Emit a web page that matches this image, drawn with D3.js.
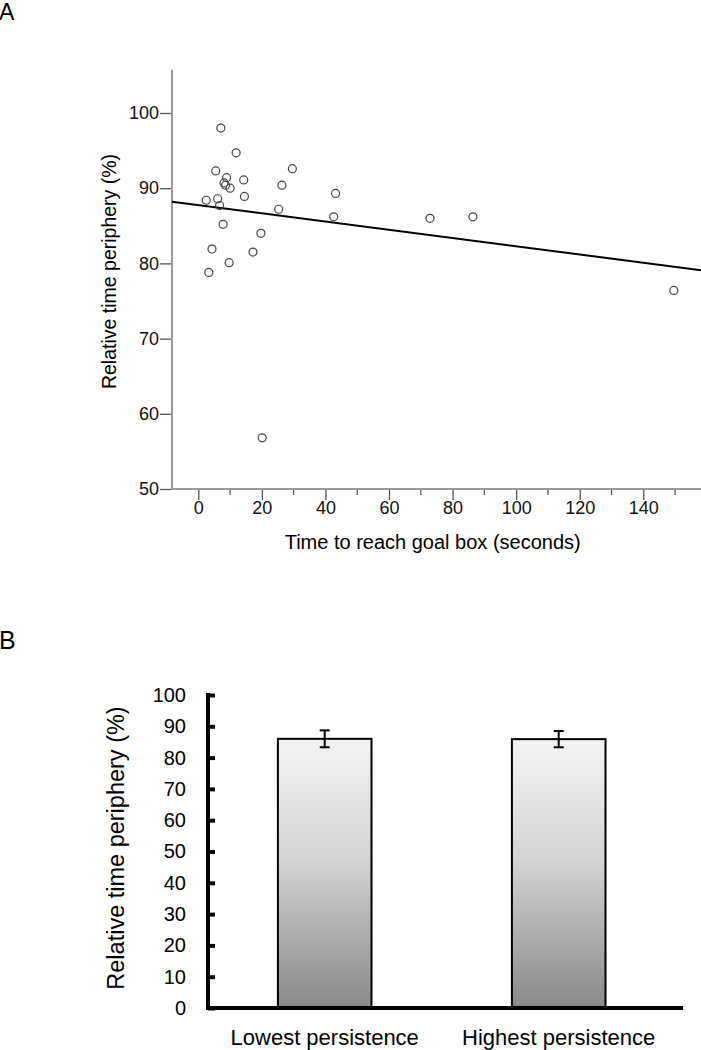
<!DOCTYPE html>
<html><head><meta charset="utf-8">
<script src="https://cdn.jsdelivr.net/npm/d3@7"></script>
<style>body{margin:0;background:#fff}svg{display:block;font-family:Arial,"Liberation Sans",sans-serif}</style>
</head><body>
<svg id="c" width="701" height="1050"></svg>
<script>
// ---- Panel A data ----
const scatterX = [7.1,11.9,5.5,8.9,14.3,8.1,8.6,10,29.6,26.3,43.2,2.5,6.1,14.5,6.7,25.3,42.6,72.9,86.4,7.8,19.7,4.3,17.2,9.7,3.3,149.6,20.1];
const scatterY = [98.0,94.7,92.3,91.4,91.1,90.7,90.4,90.0,92.6,90.4,89.3,88.4,88.6,88.9,87.7,87.2,86.2,86.0,86.2,85.2,84.0,81.9,81.5,80.1,78.8,76.4,56.8];
const fitLine = {intercept: 87.75, slope: -0.0547};
const xTicksA = [0,20,40,60,80,100,120,140];
const xMinorA = [10,30,50,70,90,110,130,150];
const yTicksA = [50,60,70,80,90,100];
// ---- Panel B data ----
const categories = ["Lowest persistence","Highest persistence"];
const barMeans = [86.0, 85.9];
const barErrors = [2.7, 2.6];
const yTicksB = [0,10,20,30,40,50,60,70,80,90,100];

const svg = d3.select("#c");

// ---------- Panel A ----------
const xA = d3.scaleLinear().domain([0,140]).range([198.3,643.3]);
const yA = d3.scaleLinear().domain([50,100]).range([489,113]);
const xMinVal = xA.invert(172), xMaxVal = xA.invert(701), yTopVal = yA.invert(70);

svg.append("text").attr("x",-1).attr("y",20).attr("font-size",23).text("A");

const gA = svg.append("g");
const yAxA = gA.append("g").attr("transform","translate(172,0)")
  .call(d3.axisLeft(yA).tickValues(yTicksA).tickSize(12).tickPadding(1));
yAxA.select(".domain").remove();
yAxA.selectAll("line").attr("stroke","#555").attr("stroke-width",1.3);
yAxA.selectAll("text").attr("font-size",18).attr("fill","#111").attr("font-family","Arial, 'Liberation Sans', sans-serif");
gA.append("line").attr("x1",172).attr("x2",172).attr("y1",yA(yTopVal)).attr("y2",490).attr("stroke","#9a9a9a").attr("stroke-width",2);

const xAxA = gA.append("g").attr("transform","translate(0,489)")
  .call(d3.axisBottom(xA).tickValues(xTicksA).tickSize(11).tickPadding(1));
xAxA.select(".domain").remove();
xAxA.selectAll("line").attr("stroke","#555").attr("stroke-width",1.3);
xAxA.selectAll("text").attr("font-size",18).attr("fill","#111").attr("font-family","Arial, 'Liberation Sans', sans-serif");
gA.append("g").selectAll("line").data(xMinorA.filter(v=>xA(v)<701)).join("line")
  .attr("x1",d=>xA(d)).attr("x2",d=>xA(d)).attr("y1",489).attr("y2",495)
  .attr("stroke","#555").attr("stroke-width",1.3);
gA.append("line").attr("x1",171).attr("x2",701).attr("y1",489).attr("y2",489).attr("stroke","#9a9a9a").attr("stroke-width",2);

gA.append("line")
  .attr("x1",xA(xMinVal)).attr("y1",yA(fitLine.intercept+fitLine.slope*xMinVal))
  .attr("x2",xA(xMaxVal)).attr("y2",yA(fitLine.intercept+fitLine.slope*xMaxVal))
  .attr("stroke","#000").attr("stroke-width",2);

gA.append("g").selectAll("circle").data(scatterX.map((x,i)=>[x,scatterY[i]])).join("circle")
  .attr("cx",d=>xA(d[0])).attr("cy",d=>yA(d[1])).attr("r",4)
  .attr("fill","none").attr("stroke","#444").attr("stroke-width",1.2);

gA.append("text").attr("x",432.7).attr("y",549).attr("text-anchor","middle").attr("font-size",20)
  .text("Time to reach goal box (seconds)");
gA.append("text").attr("transform","translate(116,271.5) rotate(-90)").attr("text-anchor","middle").attr("font-size",19.5)
  .text("Relative time periphery (%)");

// ---------- Panel B ----------
svg.append("text").attr("x",-1).attr("y",649).attr("font-size",25).text("B");

const xB = d3.scaleBand().domain(categories).range([207.7,675.7]).paddingInner(0.6).paddingOuter(0.3);
const yB = d3.scaleLinear().domain([0,100]).range([1008,695]);

const defs = svg.append("defs");
const grad = defs.append("linearGradient").attr("id","barGrad").attr("x1",0).attr("y1",0).attr("x2",0).attr("y2",1);
grad.append("stop").attr("offset","0%").attr("stop-color","#f3f3f3");
grad.append("stop").attr("offset","45%").attr("stop-color","#d4d4d4");
grad.append("stop").attr("offset","100%").attr("stop-color","#888");

const gB = svg.append("g");
gB.selectAll("rect").data(categories).join("rect")
  .attr("x",d=>xB(d)).attr("width",xB.bandwidth())
  .attr("y",(d,i)=>yB(barMeans[i])).attr("height",(d,i)=>yB(0)-yB(barMeans[i]))
  .attr("fill","url(#barGrad)").attr("stroke","#000").attr("stroke-width",2);

categories.forEach((c,i)=>{
  const cx = xB(c)+xB.bandwidth()/2;
  const t = yB(barMeans[i]+barErrors[i]), b = yB(barMeans[i]-barErrors[i]);
  gB.append("line").attr("x1",cx).attr("x2",cx).attr("y1",t).attr("y2",b).attr("stroke","#000").attr("stroke-width",2);
  gB.append("line").attr("x1",cx-5).attr("x2",cx+5).attr("y1",t).attr("y2",t).attr("stroke","#000").attr("stroke-width",2);
  gB.append("line").attr("x1",cx-5).attr("x2",cx+5).attr("y1",b).attr("y2",b).attr("stroke","#000").attr("stroke-width",2);
});

const yAxB = gB.append("g").attr("transform","translate(208,0)")
  .call(d3.axisRight(yB).tickValues(yTicksB).tickSize(7).tickFormat(d3.format("d")));
yAxB.select(".domain").remove();
yAxB.selectAll("line").attr("stroke","#000").attr("stroke-width",4);
yAxB.selectAll("text").attr("x",-22).attr("text-anchor","end").attr("font-size",20).attr("fill","#000")
  .attr("font-family","Arial, 'Liberation Sans', sans-serif");
gB.append("line").attr("x1",208).attr("x2",208).attr("y1",693).attr("y2",1010).attr("stroke","#000").attr("stroke-width",4);
gB.append("line").attr("x1",206).attr("x2",683).attr("y1",1008).attr("y2",1008).attr("stroke","#000").attr("stroke-width",4);
gB.append("g").selectAll("text").data(categories).join("text")
  .attr("x",d=>xB(d)+xB.bandwidth()/2).attr("y",1045).attr("text-anchor","middle").attr("font-size",22)
  .text(d=>d);
gB.append("text").attr("transform","translate(124,848) rotate(-90)").attr("text-anchor","middle").attr("font-size",23.5)
  .text("Relative time periphery (%)");
</script>
</body></html>
